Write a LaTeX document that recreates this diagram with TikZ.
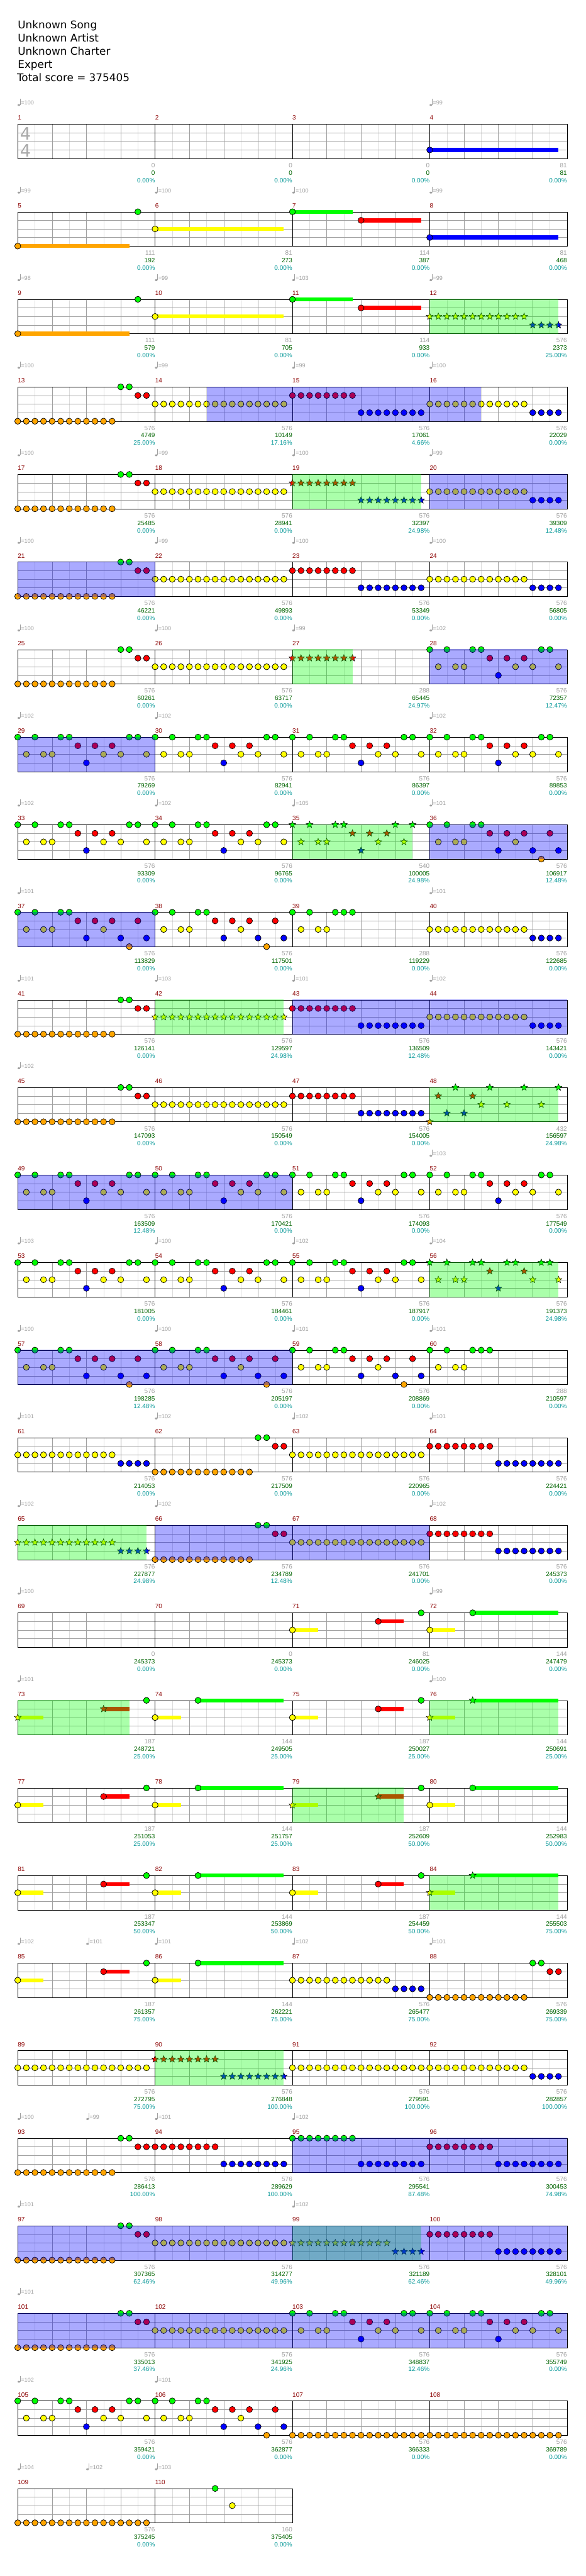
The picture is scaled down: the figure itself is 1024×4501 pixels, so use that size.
\documentclass[tikz,border=0pt]{standalone}
\usepackage{fontspec}
\setmainfont{DejaVu Sans}
\newfontfamily\labelfont{Liberation Sans}
\usetikzlibrary{shapes.geometric}

\definecolor{lane0}{RGB}{0,255,0}
\definecolor{lane1}{RGB}{255,0,0}
\definecolor{lane2}{RGB}{255,255,0}
\definecolor{lane3}{RGB}{0,0,255}
\definecolor{lane4}{RGB}{255,165,0}
\definecolor{barred}{RGB}{139,0,0}
\definecolor{greytext}{RGB}{160,160,160}
\definecolor{runtext}{RGB}{0,100,0}
\definecolor{pcttext}{RGB}{0,150,150}
\definecolor{gridmid}{RGB}{160,160,160}
\definecolor{gridlight}{RGB}{220,220,220}
\definecolor{timesig}{RGB}{170,170,170}

\pgfdeclarelayer{paper}
\pgfdeclarelayer{sustain}
\pgfdeclarelayer{phrase}
\pgfsetlayers{paper,sustain,main,phrase}

\tikzset{
  gem/.style={circle,draw=black,line width=0.8pt,minimum size=10.6pt,inner sep=0pt},
  stargem/.style={star,star points=5,star point ratio=2.3,draw=black,line width=0.6pt,
    minimum size=12.5pt,inner sep=0pt},
  barlabel/.style={anchor=west,inner sep=0pt,text=barred,font=\labelfont\fontsize{11}{11}\selectfont},
  basescore/.style={anchor=east,inner sep=0pt,text=greytext,font=\labelfont\fontsize{11}{11}\selectfont},
  runscore/.style={basescore,text=runtext},
  runpct/.style={basescore,text=pcttext},
  tempotext/.style={anchor=west,inner sep=0pt,text=greytext,font=\labelfont\fontsize{10}{10}\selectfont},
  headline/.style={anchor=base west,inner sep=0pt,font=\fontsize{18.5}{23}\selectfont},
  sigdigit/.style={inner sep=0pt,text=timesig,font=\fontsize{30}{30}\selectfont},
}

% where bar #1 sits: \mx = left edge, \my = top line
\newcommand\setbar[1]{%
  \pgfmathsetmacro\mx{31+240*mod(#1-1,4)}%
  \pgfmathsetmacro\my{217+153*floor((#1-1)/4)}}

% tempo mark: bar, position in 16ths, bpm
\newcommand\midtempo[3]{\setbar{#1}%
  \fill[greytext] (\mx+15*#2+2,\my-33.5) ellipse (2.3 and 1.7);
  \draw[greytext] (\mx+15*#2+4,\my-34) -- ++(0,-10);
  \node[tempotext] (bpm#1-#2) at (\mx+15*#2+5.5,\my-37) {=#3};}

% bar number, base score, running score, percent, tempo
\newcommand\chartbar[5]{%
  \setbar{#1}%
  \begin{pgfonlayer}{paper}
    \foreach \k in {30,90,150,210} \draw[gridlight] (\mx+\k,\my) -- ++(0,60);
    \foreach \k in {60,120,180} \draw[gridmid] (\mx+\k,\my) -- ++(0,60);
    \foreach \k in {15,30,45} \draw[gridmid] (\mx,\my+\k) -- ++(240,0);
    \draw (\mx,\my) rectangle ++(240,60);
  \end{pgfonlayer}
  \node[barlabel] (bar#1) at (\mx,\my-11) {#1};
  \node[basescore] (base#1) at (\mx+240,\my+72) {#2};
  \node[runscore] (run#1) at (\mx+240,\my+85) {#3};
  \node[runpct] (pct#1) at (\mx+240,\my+98) {#4};
  \if\relax\detokenize{#5}\relax\else \midtempo{#1}{0}{#5}\fi}

% gems: bar, lane (0 green .. 4 orange), positions in 16ths
\newcommand\gems[3]{\setbar{#1}%
  \foreach \p in {#3} \node[gem,fill=lane#2] (g#1-#2-\p) at (\mx+15*\p,\my+15*#2) {};}
\newcommand\spgems[3]{\setbar{#1}%
  \foreach \p in {#3} \node[stargem,fill=lane#2] (s#1-#2-\p) at (\mx+15*\p,\my+15*#2) {};}
\newcommand\holdline[4]{\setbar{#1}%
  \begin{pgfonlayer}{sustain}
    \draw[lane#2,line width=7pt] (\mx+15*#3,\my+15*#2) -- (\mx+15*#4,\my+15*#2);
  \end{pgfonlayer}}
\newcommand\holdnote[4]{\holdline{#1}{#2}{#3}{#4}\gems{#1}{#2}{#3}}
\newcommand\spholdnote[4]{\holdline{#1}{#2}{#3}{#4}\spgems{#1}{#2}{#3}}
\newcommand\solozone[3]{\setbar{#1}%
  \begin{pgfonlayer}{phrase}
    \fill[lane3,opacity=0.333] (\mx+15*#2,\my-0.5) rectangle (\mx+15*#3,\my+60.5);
  \end{pgfonlayer}}
\newcommand\spzone[3]{\setbar{#1}%
  \begin{pgfonlayer}{phrase}
    \fill[lane0,opacity=0.333] (\mx+15*#2,\my-0.5) rectangle (\mx+15*#3,\my+60.5);
  \end{pgfonlayer}}

% recurring figures
\newcommand\patA[1]{\gems{#1}{4}{0,...,11}\gems{#1}{0}{12,13}\gems{#1}{1}{14,15}}
\newcommand\patY[1]{\gems{#1}{2}{0,...,15}}
\newcommand\patO[1]{\gems{#1}{4}{0,...,15}}
\newcommand\patYB[1]{\gems{#1}{2}{0,...,11}\gems{#1}{3}{12,...,15}}
\newcommand\patRB[1]{\gems{#1}{1}{0,...,7}\gems{#1}{3}{8,...,15}}
\newcommand\patP[1]{\gems{#1}{0}{0,2,5,6,13,14}\gems{#1}{1}{7,9,11}%
  \gems{#1}{2}{1,3,4,10,12,15}\gems{#1}{3}{8}}
\newcommand\patS[1]{\gems{#1}{0}{0,2,5,6}\gems{#1}{1}{7,9,11,14}%
  \gems{#1}{2}{1,3,4,10}\gems{#1}{3}{8,12,15}\gems{#1}{4}{13}}
\newcommand\patT[1]{\gems{#1}{0}{0,2,5,6,7}\gems{#1}{2}{1,3,4}}
\newcommand\patH[1]{\holdnote{#1}{2}{0}{3}\holdnote{#1}{1}{10}{13}\gems{#1}{0}{15}}
\newcommand\patK[1]{\holdnote{#1}{2}{0}{3}\holdnote{#1}{0}{5}{15}}

\begin{document}
\begin{tikzpicture}[x=1pt,y=-1pt,line width=1pt]
  \useasboundingbox (0,0) rectangle (1024,4501);
  \begin{pgfonlayer}{paper}
    \fill[white] (0,0) rectangle (1024,4501);
  \end{pgfonlayer}

  % header
  \node[headline] (song)    at (31,50)  {Unknown Song};
  \node[headline] (artist)  at (31,73)  {Unknown Artist};
  \node[headline] (charter) at (31,96)  {Unknown Charter};
  \node[headline] (diff)    at (31,119) {Expert};
  \node[headline] (total)   at (29.5,142) {Total score = 375405};

  % bars 1-4
  \chartbar{1}{0}{0}{0.00\%}{100}
  \node[sigdigit] (sigtop) at (44.5,233.5) {4};
  \node[sigdigit] (sigbot) at (44.5,263.5) {4};
  \chartbar{2}{0}{0}{0.00\%}{}
  \chartbar{3}{0}{0}{0.00\%}{}
  \chartbar{4}{81}{81}{0.00\%}{99} \holdnote{4}{3}{0}{15}
  % bars 5-8
  \chartbar{5}{111}{192}{0.00\%}{99} \holdnote{5}{4}{0}{13} \gems{5}{0}{14}
  \chartbar{6}{81}{273}{0.00\%}{100} \holdnote{6}{2}{0}{15}
  \chartbar{7}{114}{387}{0.00\%}{100} \holdnote{7}{0}{0}{7} \holdnote{7}{1}{8}{15}
  \chartbar{8}{81}{468}{0.00\%}{99} \holdnote{8}{3}{0}{15}
  % bars 9-12
  \chartbar{9}{111}{579}{0.00\%}{98} \holdnote{9}{4}{0}{13} \gems{9}{0}{14}
  \chartbar{10}{81}{705}{0.00\%}{99} \holdnote{10}{2}{0}{15}
  \chartbar{11}{114}{933}{0.00\%}{103} \holdnote{11}{0}{0}{7} \holdnote{11}{1}{8}{15}
  \chartbar{12}{576}{2373}{25.00\%}{99} \spgems{12}{2}{0,...,11} \spgems{12}{3}{12,...,15} \spzone{12}{0}{15}
  % bars 13-16
  \chartbar{13}{576}{4749}{25.00\%}{100} \patA{13}
  \chartbar{14}{576}{10149}{17.16\%}{99} \patY{14} \solozone{14}{6}{16}
  \chartbar{15}{576}{17061}{4.66\%}{99} \patRB{15} \solozone{15}{0}{16}
  \chartbar{16}{576}{22029}{0.00\%}{100} \patYB{16} \solozone{16}{0}{6}
  % bars 17-20
  \chartbar{17}{576}{25485}{0.00\%}{100} \patA{17}
  \chartbar{18}{576}{28941}{0.00\%}{99} \patY{18}
  \chartbar{19}{576}{32397}{24.98\%}{100} \spgems{19}{1}{0,...,7} \spgems{19}{3}{8,...,15} \spzone{19}{0}{15}
  \chartbar{20}{576}{39309}{12.48\%}{99} \patYB{20} \solozone{20}{0}{16}
  % bars 21-24
  \chartbar{21}{576}{46221}{0.00\%}{100} \patA{21} \solozone{21}{0}{16}
  \chartbar{22}{576}{49893}{0.00\%}{99} \patY{22}
  \chartbar{23}{576}{53349}{0.00\%}{100} \patRB{23}
  \chartbar{24}{576}{56805}{0.00\%}{100} \patYB{24}
  % bars 25-28
  \chartbar{25}{576}{60261}{0.00\%}{100} \patA{25}
  \chartbar{26}{576}{63717}{0.00\%}{100} \patY{26}
  \chartbar{27}{288}{65445}{24.97\%}{99} \spgems{27}{1}{0,...,7} \spzone{27}{0}{7}
  \chartbar{28}{576}{72357}{12.47\%}{102} \patP{28} \solozone{28}{0}{16}
  % bars 29-32
  \chartbar{29}{576}{79269}{0.00\%}{102} \patP{29} \solozone{29}{0}{16}
  \chartbar{30}{576}{82941}{0.00\%}{102} \patP{30}
  \chartbar{31}{576}{86397}{0.00\%}{} \patP{31}
  \chartbar{32}{576}{89853}{0.00\%}{102} \patP{32}
  % bars 33-36
  \chartbar{33}{576}{93309}{0.00\%}{102} \patP{33}
  \chartbar{34}{576}{96765}{0.00\%}{102} \patP{34}
  \chartbar{35}{540}{100005}{24.98\%}{105}
    \spgems{35}{0}{0,2,5,6,12,14} \spgems{35}{1}{7,9,11} \spgems{35}{2}{1,3,4,10,13} \spgems{35}{3}{8}
    \spzone{35}{0}{14}
  \chartbar{36}{576}{106917}{12.48\%}{101} \patS{36} \solozone{36}{0}{16}
  % bars 37-40
  \chartbar{37}{576}{113829}{0.00\%}{101} \patS{37} \solozone{37}{0}{16}
  \chartbar{38}{576}{117501}{0.00\%}{} \patS{38}
  \chartbar{39}{288}{119229}{0.00\%}{} \patT{39}
  \chartbar{40}{576}{122685}{0.00\%}{101} \patYB{40}
  % bars 41-44
  \chartbar{41}{576}{126141}{0.00\%}{101} \patA{41}
  \chartbar{42}{576}{129597}{24.98\%}{103} \spgems{42}{2}{0,...,15} \spzone{42}{0}{15}
  \chartbar{43}{576}{136509}{12.48\%}{101} \patRB{43} \solozone{43}{0}{16}
  \chartbar{44}{576}{143421}{0.00\%}{102} \patYB{44} \solozone{44}{0}{16}
  % bars 45-48
  \chartbar{45}{576}{147093}{0.00\%}{102} \patA{45}
  \chartbar{46}{576}{150549}{0.00\%}{} \patY{46}
  \chartbar{47}{576}{154005}{0.00\%}{} \patRB{47}
  \chartbar{48}{432}{156597}{24.98\%}{}
    \spgems{48}{0}{3,7,11,15} \spgems{48}{1}{1,5} \spgems{48}{2}{6,9,13} \spgems{48}{3}{2,4} \spgems{48}{4}{0}
    \spzone{48}{0}{15}
  % bars 49-52
  \chartbar{49}{576}{163509}{12.48\%}{} \patP{49} \solozone{49}{0}{16}
  \chartbar{50}{576}{170421}{0.00\%}{} \patP{50} \solozone{50}{0}{16}
  \chartbar{51}{576}{174093}{0.00\%}{} \patP{51}
  \chartbar{52}{576}{177549}{0.00\%}{103} \patP{52}
  % bars 53-56
  \chartbar{53}{576}{181005}{0.00\%}{103} \patP{53}
  \chartbar{54}{576}{184461}{0.00\%}{100} \patP{54}
  \chartbar{55}{576}{187917}{0.00\%}{102} \patP{55}
  \chartbar{56}{576}{191373}{24.98\%}{104}
    \spgems{56}{0}{0,2,5,6,9,10,13,14} \spgems{56}{1}{7,11} \spgems{56}{2}{1,3,4,12,15} \spgems{56}{3}{8}
    \spzone{56}{0}{15}
  % bars 57-60
  \chartbar{57}{576}{198285}{12.48\%}{100} \patS{57} \solozone{57}{0}{16}
  \chartbar{58}{576}{205197}{0.00\%}{100} \patS{58} \solozone{58}{0}{16}
  \chartbar{59}{576}{208869}{0.00\%}{101} \patS{59}
  \chartbar{60}{288}{210597}{0.00\%}{101} \patT{60}
  % bars 61-64
  \chartbar{61}{576}{214053}{0.00\%}{101} \patYB{61}
  \chartbar{62}{576}{217509}{0.00\%}{102} \patA{62}
  \chartbar{63}{576}{220965}{0.00\%}{102} \patY{63}
  \chartbar{64}{576}{224421}{0.00\%}{101} \patRB{64}
  % bars 65-68
  \chartbar{65}{576}{227877}{24.98\%}{102} \spgems{65}{2}{0,...,11} \spgems{65}{3}{12,...,15} \spzone{65}{0}{15}
  \chartbar{66}{576}{234789}{12.48\%}{102} \patA{66} \solozone{66}{0}{16}
  \chartbar{67}{576}{241701}{0.00\%}{} \patY{67} \solozone{67}{0}{16}
  \chartbar{68}{576}{245373}{0.00\%}{102} \patRB{68}
  % bars 69-72
  \chartbar{69}{0}{245373}{0.00\%}{100}
  \chartbar{70}{0}{245373}{0.00\%}{}
  \chartbar{71}{81}{246025}{0.00\%}{} \patH{71}
  \chartbar{72}{144}{247479}{0.00\%}{99} \patK{72}
  % bars 73-76
  \chartbar{73}{187}{248721}{25.00\%}{101}
    \spholdnote{73}{2}{0}{3} \spholdnote{73}{1}{10}{13} \gems{73}{0}{15} \spzone{73}{0}{13}
  \chartbar{74}{144}{249505}{25.00\%}{} \patK{74}
  \chartbar{75}{187}{250027}{25.00\%}{} \patH{75}
  \chartbar{76}{144}{250691}{25.00\%}{100}
    \spholdnote{76}{2}{0}{3} \spholdnote{76}{0}{5}{15} \spzone{76}{0}{15}
  % bars 77-80
  \chartbar{77}{187}{251053}{25.00\%}{} \patH{77}
  \chartbar{78}{144}{251757}{25.00\%}{} \patK{78}
  \chartbar{79}{187}{252609}{50.00\%}{}
    \spholdnote{79}{2}{0}{3} \spholdnote{79}{1}{10}{13} \gems{79}{0}{15} \spzone{79}{0}{13}
  \chartbar{80}{144}{252983}{50.00\%}{} \patK{80}
  % bars 81-84
  \chartbar{81}{187}{253347}{50.00\%}{} \patH{81}
  \chartbar{82}{144}{253869}{50.00\%}{} \patK{82}
  \chartbar{83}{187}{254459}{50.00\%}{} \patH{83}
  \chartbar{84}{144}{255503}{75.00\%}{}
    \spholdnote{84}{2}{0}{3} \spholdnote{84}{0}{5}{15} \spzone{84}{0}{15}
  % bars 85-88
  \chartbar{85}{187}{261357}{75.00\%}{102} \midtempo{85}{8}{101} \patH{85}
  \chartbar{86}{144}{262221}{75.00\%}{101} \patK{86}
  \chartbar{87}{576}{265477}{75.00\%}{102} \patYB{87}
  \chartbar{88}{576}{269339}{75.00\%}{101} \patA{88}
  % bars 89-92
  \chartbar{89}{576}{272795}{75.00\%}{} \patY{89}
  \chartbar{90}{576}{276848}{100.00\%}{} \spgems{90}{1}{0,...,7} \spgems{90}{3}{8,...,15} \spzone{90}{0}{15}
  \chartbar{91}{576}{279591}{100.00\%}{} \patY{91}
  \chartbar{92}{576}{282857}{100.00\%}{} \patYB{92}
  % bars 93-96
  \chartbar{93}{576}{286413}{100.00\%}{100} \midtempo{93}{8}{99} \patA{93}
  \chartbar{94}{576}{289629}{100.00\%}{101} \patRB{94}
  \chartbar{95}{576}{295541}{87.48\%}{102} \gems{95}{0}{0,...,7} \gems{95}{3}{8,...,15} \solozone{95}{0}{16}
  \chartbar{96}{576}{300453}{74.98\%}{} \patRB{96} \solozone{96}{0}{16}
  % bars 97-100
  \chartbar{97}{576}{307365}{62.46\%}{101} \patA{97} \solozone{97}{0}{16}
  \chartbar{98}{576}{314277}{49.96\%}{} \patY{98} \solozone{98}{0}{16}
  \chartbar{99}{576}{321189}{62.46\%}{102}
    \spgems{99}{2}{0,...,11} \spgems{99}{3}{12,...,15} \spzone{99}{0}{15} \solozone{99}{0}{16}
  \chartbar{100}{576}{328101}{49.96\%}{} \patRB{100} \solozone{100}{0}{16}
  % bars 101-104
  \chartbar{101}{576}{335013}{37.46\%}{101} \patA{101} \solozone{101}{0}{16}
  \chartbar{102}{576}{341925}{24.96\%}{} \patY{102} \solozone{102}{0}{16}
  \chartbar{103}{576}{348837}{12.46\%}{} \patP{103} \solozone{103}{0}{16}
  \chartbar{104}{576}{355749}{0.00\%}{} \patP{104} \solozone{104}{0}{16}
  % bars 105-108
  \chartbar{105}{576}{359421}{0.00\%}{102} \patP{105}
  \chartbar{106}{576}{362877}{0.00\%}{101} \patS{106}
  \chartbar{107}{576}{366333}{0.00\%}{} \patO{107}
  \chartbar{108}{576}{369789}{0.00\%}{} \patO{108}
  % bars 109-110
  \chartbar{109}{576}{375245}{0.00\%}{104} \midtempo{109}{8}{102} \patO{109}
  \chartbar{110}{160}{375405}{0.00\%}{103} \gems{110}{0}{7} \gems{110}{2}{9}
\end{tikzpicture}
\end{document}
